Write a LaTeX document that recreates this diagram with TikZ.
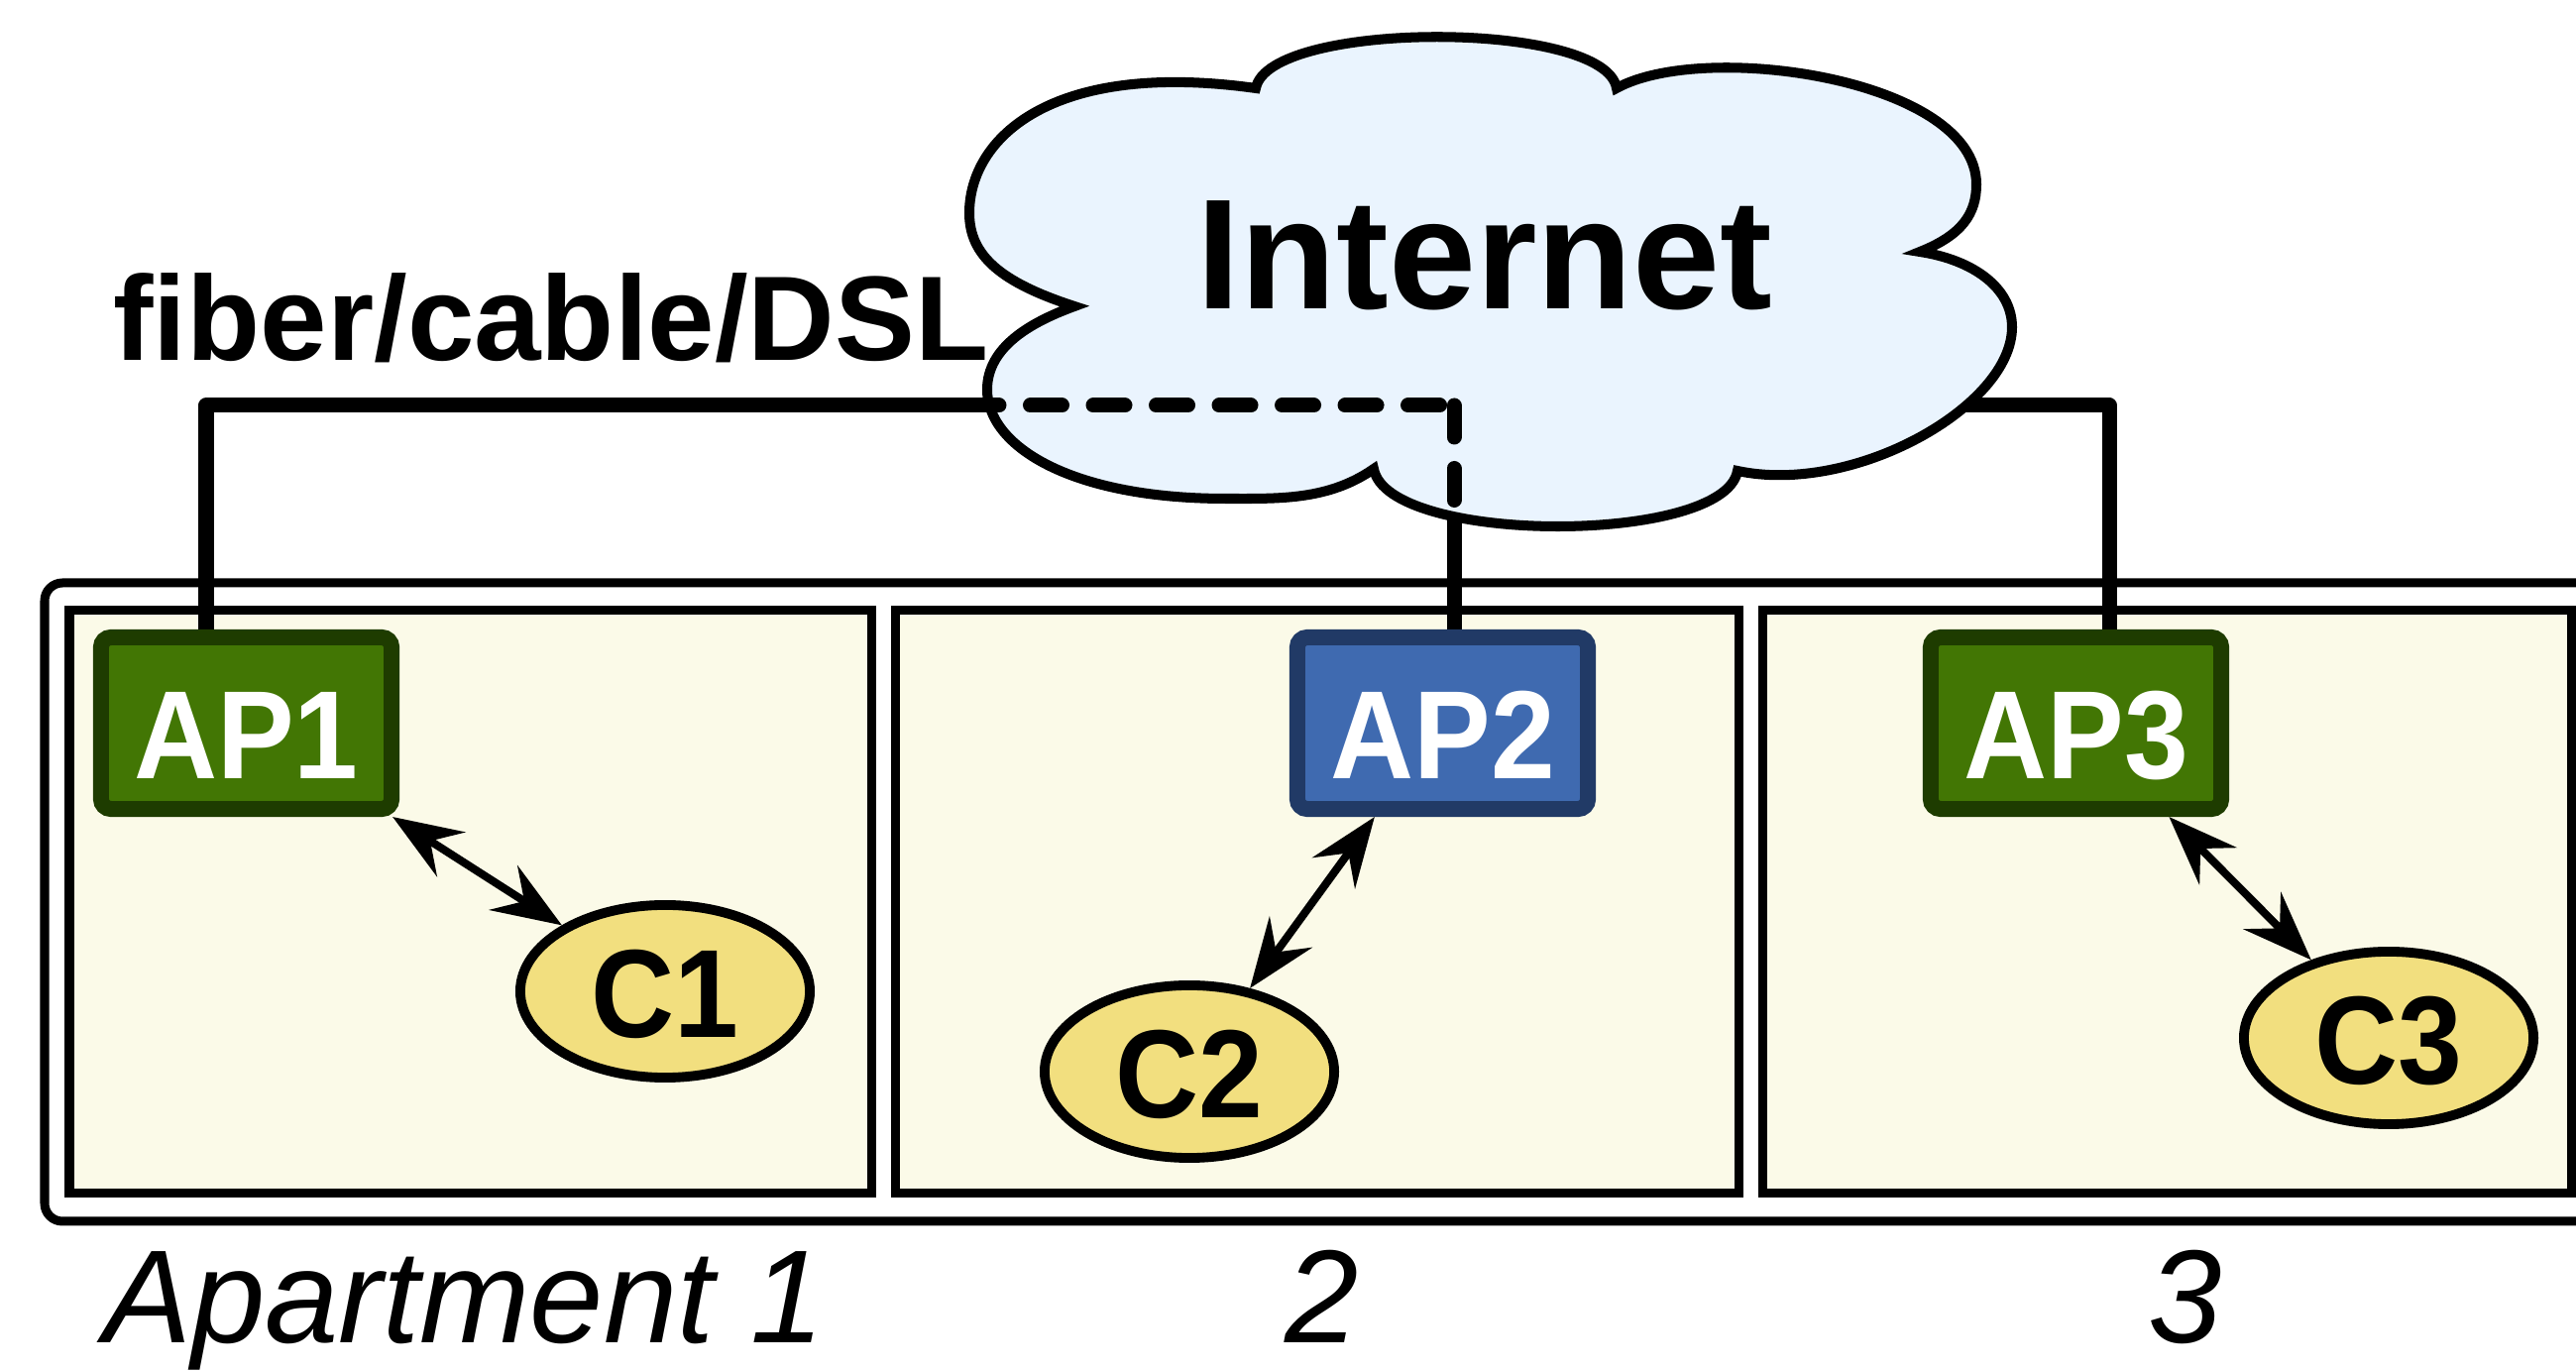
\documentclass[tikz,border=0pt]{standalone}
\usepackage{fontspec}
\setmainfont{Liberation Sans}
\newfontfamily\nodefont[FakeStretch=0.92]{Liberation Sans}
\usetikzlibrary{arrows.meta,shapes.geometric}
\definecolor{apgreen}{RGB}{66,118,4}
\definecolor{apgreenD}{RGB}{30,60,0}
\definecolor{apblue}{RGB}{63,106,176}
\definecolor{apblueD}{RGB}{33,58,102}
\definecolor{cyellow}{RGB}{242,223,127}
\definecolor{cream}{RGB}{251,250,232}
\definecolor{cloudblue}{RGB}{234,244,254}
\pgfdeclarelayer{back}
\pgfdeclarelayer{wires}
\pgfdeclarelayer{cloudl}
\pgfsetlayers{back,wires,cloudl,main}
\begin{document}
\begin{tikzpicture}[x=0.01cm,y=-0.01cm,
  house/.style={draw=black,line width=2.56pt,fill=white,rounded corners=0.18cm},
  room/.style={draw=black,line width=2.56pt,fill=cream},
  wire/.style={draw=black,line width=4.27pt,line join=round},
  dashwire/.style={draw=black,line width=4.27pt,line cap=round,dash pattern=on 9.1pt off 8.96pt},
  cloudshape/.style={draw=black,line width=2.85pt,fill=cloudblue},
  ap/.style={rectangle,rounded corners=0.1cm,line width=4.55pt,minimum width=2.93cm,minimum height=1.73cm,
    inner sep=0pt,text=white,font=\fontsize{36}{40}\nodefont\bfseries,text height=1.11cm,text depth=0cm},
  client/.style={ellipse,draw=black,fill=cyellow,line width=2.8pt,minimum width=2.92cm,minimum height=1.74cm,
    inner sep=0pt,text=black,font=\fontsize{36}{40}\nodefont\bfseries,text height=0.92cm,text depth=0cm},
  conn/.style={line width=2.28pt,>={Stealth[length=0.7cm,width=0.53cm,inset=0.25cm]},<->},
  biglabel/.style={anchor=base,inner sep=0pt},
  aptlabel/.style={anchor=base,inner sep=0pt,font=\fontsize{38}{42}\selectfont\itshape}
]
\path[use as bounding box] (0,0) rectangle (2599,1383);

\begin{pgfonlayer}{back}
  \begin{scope}
    \clip (0,0) rectangle (2599,1383);
    \draw[house] (45,588) rectangle (2690,1232);
  \end{scope}
  \draw[room] (70,616) rectangle (879,1204);
  \draw[room] (903,616) rectangle (1754,1204);
  \draw[room] (1778,616) rectangle (2594,1204);
\end{pgfonlayer}

% access points and clients
\node[ap,fill=apgreen,draw=apgreenD] (AP1) at (248.5,729.5) {AP1};
\node[ap,fill=apblue,draw=apblueD] (AP2) at (1455.5,729.5) {AP2};
\node[ap,fill=apgreen,draw=apgreenD] (AP3) at (2094.5,729.5) {AP3};
\node[client] (C1) at (671,1000) {C1};
\node[client] (C2) at (1200,1081) {C2};
\node[client] (C3) at (2410,1047) {C3};

% texts
\node[biglabel,font=\fontsize{45}{50}\selectfont\bfseries] (inet) at (1498,312) {Internet};
\node[biglabel,font=\fontsize{34.5}{40}\selectfont\bfseries] (fiber) at (556,364) {fiber/cable/DSL};
\node[aptlabel] (lab1) at (468,1355) {Apartment 1};
\node[aptlabel] (lab2) at (1334,1355) {2};
\node[aptlabel] (lab3) at (2205,1355) {3};

% junctions
\coordinate (j1) at (208,409);
\coordinate (j2) at (1467,409);
\coordinate (j3) at (2128,409);
\coordinate (cL) at (1000,409);
\coordinate (cB) at (1467,505);

\begin{pgfonlayer}{wires}
  \draw[wire] (AP1.north -| j1) -- (j1) -- (j2) -- (AP2.north -| j2);
  \draw[wire] (AP3.north -| j3) -- (j3) -- (j3 -| inet);
\end{pgfonlayer}

\begin{pgfonlayer}{cloudl}
  \draw[cloudshape] (1084,309)
    .. controls (1010,285) and (978,258) .. (978,215)
    .. controls (978,140) and (1060,60) .. (1267,89)
    .. controls (1280,20) and (1620,20) .. (1631,89)
    .. controls (1720,40) and (1994,80) .. (1994,186)
    .. controls (1994,215) and (1980,237) .. (1937,254)
    .. controls (1990,262) and (2030,290) .. (2030,330)
    .. controls (2030,410) and (1870,500) .. (1753,475)
    .. controls (1740,550) and (1400,550) .. (1386,473)
    .. controls (1340,505) and (1290,503) .. (1237,503)
    .. controls (1080,503) and (996,450) .. (996,393)
    .. controls (996,350) and (1040,325) .. cycle;
  \draw[dashwire,dash phase=6.83pt] (cL) -- (j2);
  \draw[dashwire] (j2) -- (cB);
\end{pgfonlayer}

% wireless links
\draw[conn] (AP1) -- (C1);
\draw[conn] (AP2) -- (C2);
\draw[conn] (AP3) -- (C3);
\end{tikzpicture}
\end{document}
